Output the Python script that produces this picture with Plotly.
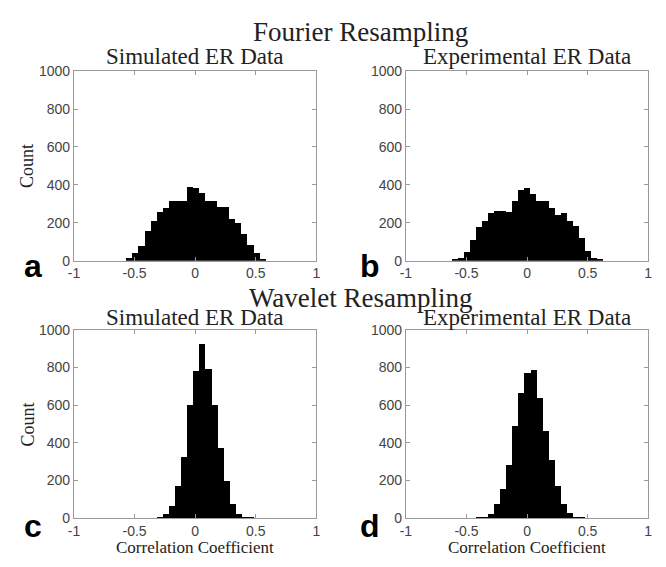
import plotly.graph_objects as go

# ---------------- data (bin centres and counts) ----------------
centers_a = [-0.543, -0.493, -0.443, -0.393, -0.343, -0.293, -0.243, -0.193, -0.143, -0.093,
             -0.043, 0.007, 0.057, 0.107, 0.157, 0.207, 0.257, 0.307, 0.357, 0.407,
             0.457, 0.507, 0.557]
counts_a = [12, 40, 77, 158, 210, 258, 277, 316, 316, 316,
            387, 380, 356, 316, 316, 282, 282, 218, 198, 141,
            84, 38, 4]

centers_b = [-0.598, -0.548, -0.498, -0.448, -0.398, -0.348, -0.298, -0.248, -0.198, -0.148,
             -0.098, -0.048, 0.002, 0.052, 0.102, 0.152, 0.202, 0.252, 0.302, 0.352,
             0.402, 0.452, 0.502, 0.552, 0.602]
counts_b = [3, 15, 43, 110, 179, 206, 249, 261, 261, 258,
            313, 372, 380, 351, 313, 316, 275, 239, 253, 210,
            181, 120, 50, 15, 4]

centers_c = [-0.34, -0.29, -0.24, -0.19, -0.14, -0.09, -0.04, 0.01, 0.06, 0.11,
             0.16, 0.21, 0.26, 0.31, 0.36, 0.41, 0.46]
counts_c = [2, 6, 25, 64, 172, 326, 600, 783, 928, 795,
            600, 372, 200, 79, 24, 10, 3]

centers_d = [-0.447, -0.397, -0.347, -0.297, -0.247, -0.197, -0.147, -0.097, -0.047, 0.003,
             0.053, 0.103, 0.153, 0.203, 0.253, 0.303, 0.353, 0.403, 0.453]
counts_d = [2, 4, 10, 26, 75, 155, 283, 490, 665, 773,
            787, 640, 465, 309, 174, 77, 27, 9, 3]

bin_width = 0.05
x_ticks = [-1, -0.5, 0, 0.5, 1]
x_tick_labels = ["-1", "-0.5", "0", "0.5", "1"]
y_ticks = [0, 200, 400, 600, 800, 1000]
y_tick_labels = ["0", "200", "400", "600", "800", "1000"]

main_titles = ["Fourier Resampling", "Wavelet Resampling"]
panel_titles = ["Simulated ER Data", "Experimental ER Data"]
panel_letters = ["a", "b", "c", "d"]
x_label = "Correlation Coefficient"
y_label = "Count"

# ---------------- layout helpers ----------------
W, H = 666, 567


def px_x(p):
    return p / W


def px_y(p):
    return 1 - p / H


left_dom = [px_x(69), px_x(315)]
right_dom = [px_x(406), px_x(652)]
top_dom = [px_y(260), px_y(65)]
bot_dom = [px_y(525), px_y(331)]

fig = go.Figure()

panels = [
    ("x", "y", centers_a, counts_a),
    ("x2", "y2", centers_b, counts_b),
    ("x3", "y3", centers_c, counts_c),
    ("x4", "y4", centers_d, counts_d),
]
for xa, ya, cx, cy in panels:
    fig.add_trace(go.Bar(x=cx, y=cy, width=bin_width, xaxis=xa, yaxis=ya,
                         marker=dict(color="black", line=dict(width=0)),
                         showlegend=False))

axis_line = "#9a9a9a"
tick_font = dict(family="Liberation Sans, Arial, sans-serif", size=14, color="#444444")


def xaxis(domain, anchor):
    return dict(domain=domain, anchor=anchor, range=[-1, 1], tickmode="array",
                tickvals=x_ticks, ticktext=x_tick_labels, ticks="inside", ticklen=4,
                tickcolor=axis_line, showline=True, linecolor=axis_line, linewidth=1,
                mirror="ticks", showgrid=False, zeroline=False, tickfont=tick_font,
                fixedrange=True)


def yaxis(domain, anchor):
    return dict(domain=domain, anchor=anchor, range=[0, 1000], tickmode="array",
                tickvals=y_ticks, ticktext=y_tick_labels, ticks="inside", ticklen=4,
                tickcolor=axis_line, showline=True, linecolor=axis_line, linewidth=1,
                mirror="ticks", showgrid=False, zeroline=False, tickfont=tick_font,
                fixedrange=True)


fig.update_layout(
    width=W, height=H, margin=dict(l=0, r=0, t=0, b=0),
    paper_bgcolor="white", plot_bgcolor="white", bargap=0, showlegend=False,
    xaxis=xaxis(left_dom, "y"), yaxis=yaxis(top_dom, "x"),
    xaxis2=xaxis(right_dom, "y2"), yaxis2=yaxis(top_dom, "x2"),
    xaxis3=xaxis(left_dom, "y3"), yaxis3=yaxis(bot_dom, "x3"),
    xaxis4=xaxis(right_dom, "y4"), yaxis4=yaxis(bot_dom, "x4"),
)

serif = "Liberation Serif, Times New Roman, serif"
sans_bold = "Liberation Sans, Arial, sans-serif"
ann = []


def add_text(text, x, y, size, family, color="#222222", angle=0, bold=False, pad=1):
    t = f"<b>{text}</b>" if bold else text
    ann.append(dict(text=t, x=px_x(x), y=px_y(y), xref="paper", yref="paper",
                    xanchor="center", yanchor="middle", showarrow=False, borderpad=pad,
                    textangle=angle, font=dict(family=family, size=size, color=color)))


# main titles
add_text(main_titles[0], 360, 25, 27, serif)
add_text(main_titles[1], 360, 298, 27, serif, pad=0)
# panel titles
cx_left = (69 + 315) / 2
cx_right = (406 + 652) / 2
for yc in (50, 318):
    add_text(panel_titles[0], cx_left, yc, 23, serif, pad=0)
    add_text(panel_titles[1], cx_right, yc, 23, serif, pad=0)
# y labels
add_text(y_label, 22, 163, 18, serif, angle=-90)
add_text(y_label, 22, 429, 18, serif, angle=-90)
# x labels
add_text(x_label, cx_left, 555, 17, serif, pad=0)
add_text(x_label, cx_right, 555, 17, serif, pad=0)
# panel letters
add_text(panel_letters[0], 27, 266, 32, sans_bold, color="black", bold=True, pad=0)
add_text(panel_letters[1], 370, 266, 32, sans_bold, color="black", bold=True, pad=0)
add_text(panel_letters[2], 27, 533, 32, sans_bold, color="black", bold=True, pad=0)
add_text(panel_letters[3], 370, 533, 32, sans_bold, color="black", bold=True, pad=0)

fig.update_layout(annotations=ann)

fig.write_html("out.html")
